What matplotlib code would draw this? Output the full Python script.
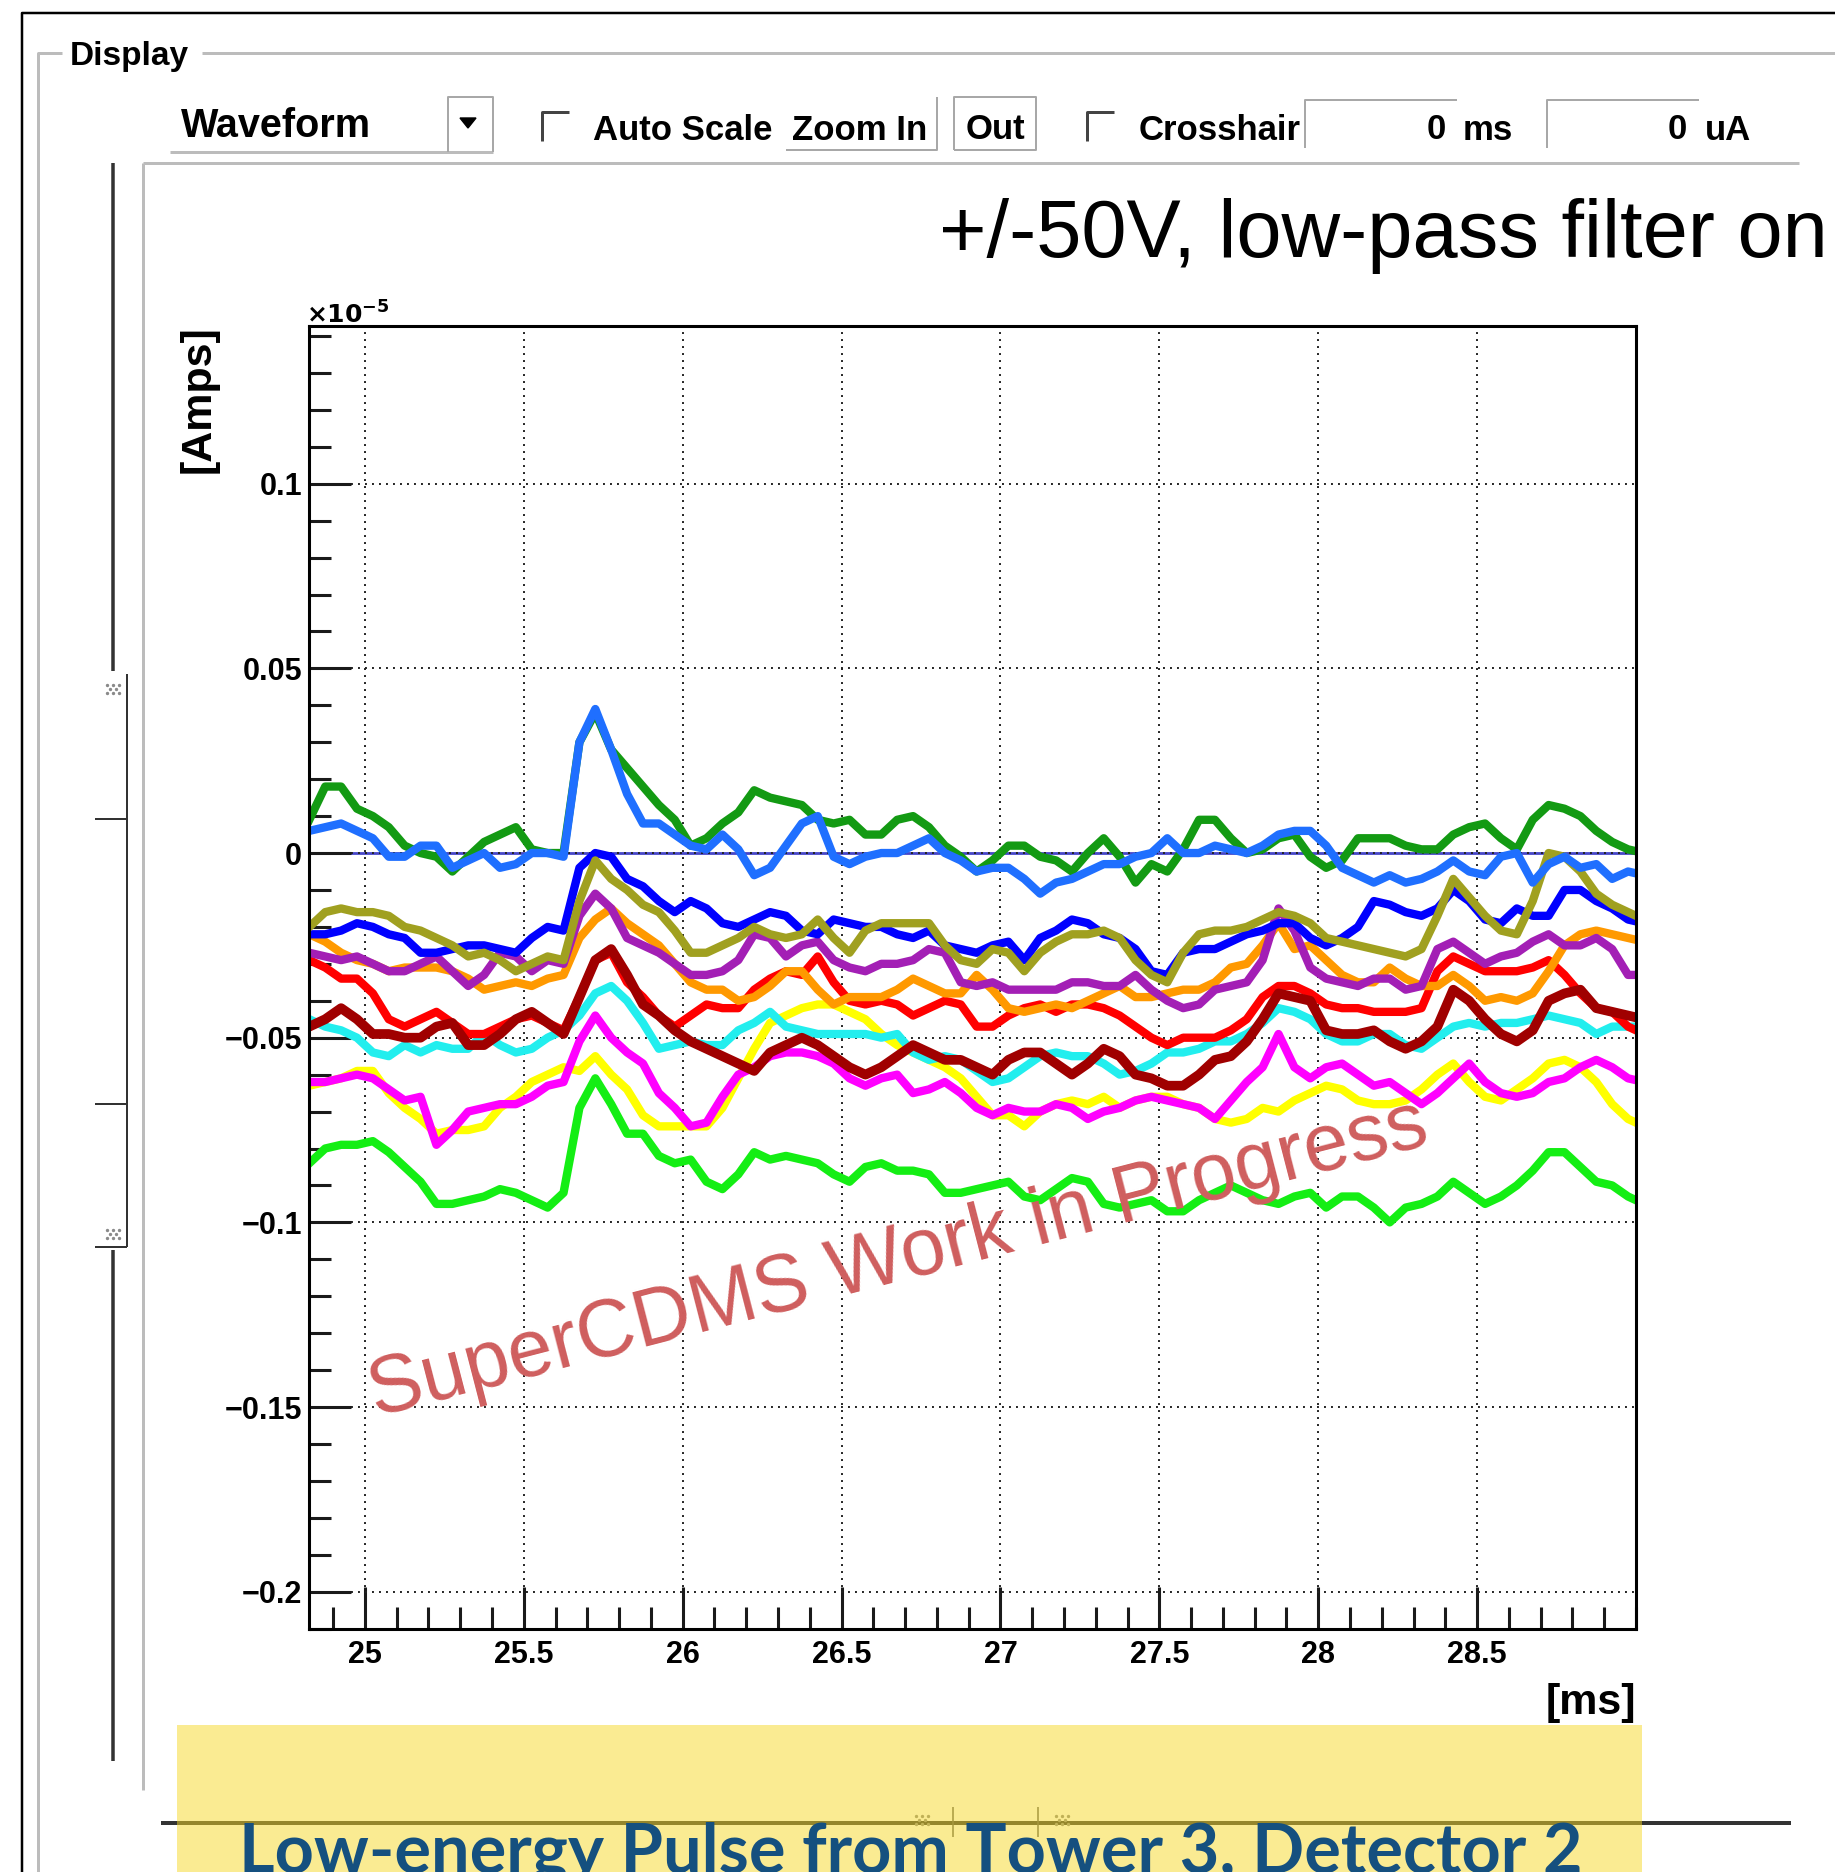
import numpy as np
import matplotlib
matplotlib.use("Agg")
import matplotlib.pyplot as plt
from matplotlib.patches import Rectangle, Polygon
from matplotlib.ticker import MultipleLocator, FixedLocator, FuncFormatter

W, H = 1835, 1872
DPI = 100

plt.rcParams["font.family"] = ["Liberation Sans", "DejaVu Sans"]
plt.rcParams["font.weight"] = "bold"

# sampling of the waveform viewer: one point every 50 us
t_start, t_step, n_samples = 24.825, 0.05, 85
time_ms = t_start + t_step * np.arange(n_samples)

# channel amplitudes in units of 1e-3 (axis is in 1e-5 A)
dark_green = [9, 18, 18, 12, 10, 7, 2, 0, -1, -5, -1, 3, 5, 7, 1, 0, 0, 30, 38, 28, 23, 18,
              13, 9, 2, 4, 8, 11, 17, 15, 14, 13, 9, 8, 9, 5, 5, 9, 10, 7, 2, -1, -5,
              -2, 2, 2, -1, -2, -5, 0, 4, -1, -8, -3, -5, 1, 9, 9, 4, 0, 1, 4, 5,
              -1, -4, -2, 4, 4, 4, 2, 1, 1, 5, 7, 8, 4, 1, 9, 13, 12, 10, 6, 3, 1, 0]
light_blue = [6, 7, 8, 6, 4, -1, -1, 2, 2, -4, -2, 0, -4, -3, 0, 0, -1, 30, 39, 28, 16, 8,
              8, 5, 2, 1, 5, 1, -6, -4, 2, 8, 10, -1, -3, -1, 0, 0, 2, 4, 0, -2, -5,
              -4, -4, -7, -11, -8, -7, -5, -3, -3, -1, 0, 4, 0, 0, 2, 1, 0, 2, 5, 6,
              6, 2, -4, -6, -8, -6, -8, -7, -5, -2, -5, -6, -1, 0, -8, -3, -1, -4, -3, -7, -5, -6]
blue = [-22, -22, -21, -19, -20, -22, -23, -27, -27, -26, -25, -25, -26, -27, -23, -20, -21, -4, 0, -1, -7, -9,
        -13, -16, -13, -15, -19, -20, -18, -16, -17, -21, -22, -18, -19, -20, -20, -22, -23, -21, -25, -26, -27,
        -25, -24, -29, -23, -21, -18, -19, -22, -23, -26, -32, -33, -27, -26, -26, -24, -22, -21, -19, -19,
        -23, -25, -23, -20, -13, -14, -16, -17, -15, -10, -13, -18, -19, -15, -17, -17, -10, -10, -13, -15, -18, -19]
olive = [-20, -16, -15, -16, -16, -17, -20, -21, -23, -25, -28, -27, -29, -32, -30, -28, -29, -13, -2, -7, -10, -14,
         -16, -21, -27, -27, -25, -23, -20, -22, -23, -22, -18, -23, -27, -21, -19, -19, -19, -19, -25, -29, -30,
         -26, -27, -32, -27, -24, -22, -22, -21, -23, -29, -33, -35, -27, -22, -21, -21, -20, -18, -16, -17,
         -19, -23, -24, -25, -26, -27, -28, -26, -17, -7, -12, -17, -21, -22, -13, 0, -1, -5, -11, -14, -16, -18]
purple = [-27, -28, -29, -28, -30, -32, -32, -30, -28, -32, -36, -33, -27, -28, -32, -29, -30, -17, -11, -15, -23, -25,
          -27, -30, -33, -33, -32, -29, -22, -23, -28, -25, -24, -29, -31, -32, -30, -30, -29, -26, -27, -35, -36,
          -35, -37, -37, -37, -37, -35, -35, -36, -36, -33, -37, -40, -42, -41, -37, -36, -35, -29, -15, -21,
          -31, -34, -35, -36, -34, -34, -37, -36, -26, -24, -27, -30, -28, -27, -24, -22, -25, -25, -23, -26, -33, -33]
orange = [-22, -24, -27, -29, -30, -32, -31, -31, -31, -32, -34, -37, -36, -35, -36, -34, -33, -23, -18, -15, -19, -22,
          -25, -30, -35, -37, -37, -40, -39, -36, -32, -32, -37, -41, -39, -39, -39, -37, -34, -36, -38, -38, -33,
          -37, -42, -43, -42, -41, -42, -40, -38, -36, -39, -39, -38, -37, -37, -35, -31, -30, -25, -19, -26,
          -25, -29, -33, -35, -35, -31, -34, -36, -36, -33, -36, -40, -39, -40, -38, -32, -25, -22, -21, -22, -23, -24]
red = [-29, -31, -34, -34, -38, -45, -47, -45, -43, -46, -49, -49, -47, -45, -44, -46, -48, -39, -29, -27, -35, -39,
       -44, -47, -44, -41, -42, -42, -37, -34, -32, -33, -28, -35, -40, -41, -40, -41, -44, -42, -40, -41, -47,
       -47, -44, -42, -41, -43, -41, -41, -42, -44, -47, -50, -52, -50, -50, -50, -48, -45, -39, -36, -36,
       -38, -41, -42, -42, -43, -43, -43, -42, -32, -28, -30, -32, -32, -32, -31, -29, -33, -38, -42, -43, -47, -49]
dark_red = [-47, -45, -42, -45, -49, -49, -50, -50, -47, -46, -52, -52, -49, -45, -43, -46, -49, -39, -29, -26, -33, -41,
            -44, -48, -51, -53, -55, -57, -59, -54, -52, -50, -52, -55, -58, -60, -58, -55, -52, -54, -56, -56, -58,
            -60, -56, -54, -54, -57, -60, -57, -53, -55, -60, -61, -63, -63, -60, -56, -55, -51, -45, -38, -39,
            -40, -48, -49, -49, -48, -51, -53, -51, -47, -37, -40, -45, -49, -51, -48, -40, -38, -37, -42, -43, -44, -45]
cyan = [-45, -47, -48, -50, -54, -55, -52, -54, -52, -53, -53, -49, -52, -54, -53, -50, -48, -44, -38, -36, -40, -46,
        -53, -52, -51, -52, -52, -48, -46, -43, -47, -48, -49, -49, -49, -49, -50, -49, -54, -56, -55, -56, -59,
        -62, -61, -58, -55, -54, -55, -55, -57, -60, -59, -57, -54, -54, -53, -51, -51, -49, -46, -42, -43,
        -45, -49, -51, -51, -49, -49, -52, -53, -50, -47, -46, -47, -46, -46, -45, -44, -45, -46, -49, -47, -47, -47]
magenta = [-62, -62, -61, -60, -61, -64, -67, -66, -79, -75, -70, -69, -68, -68, -66, -63, -62, -51, -44, -50, -54, -57,
           -65, -69, -74, -73, -66, -60, -58, -55, -54, -54, -55, -57, -61, -63, -61, -60, -65, -64, -62, -65, -69,
           -71, -69, -70, -70, -68, -69, -72, -70, -69, -67, -66, -67, -68, -69, -72, -67, -62, -58, -49, -58,
           -61, -58, -57, -60, -63, -62, -65, -68, -65, -61, -57, -62, -65, -66, -65, -62, -61, -58, -56, -58, -61, -62]
yellow = [-63, -62, -61, -59, -59, -65, -69, -72, -76, -75, -75, -74, -69, -66, -62, -60, -58, -59, -55, -60, -64, -71,
          -74, -74, -74, -74, -69, -61, -53, -46, -44, -42, -41, -41, -43, -45, -49, -52, -54, -56, -58, -61, -66,
          -71, -71, -74, -70, -68, -67, -68, -66, -69, -67, -66, -66, -68, -69, -72, -73, -72, -69, -70, -67,
          -65, -63, -64, -67, -68, -68, -67, -64, -60, -57, -62, -66, -67, -64, -61, -57, -56, -58, -62, -68, -72, -74]
bright_green = [-84, -80, -79, -79, -78, -81, -85, -89, -95, -95, -94, -93, -91, -92, -94, -96, -92, -69, -61, -68, -76, -76,
                -82, -84, -83, -89, -91, -87, -81, -83, -82, -83, -84, -87, -89, -85, -84, -86, -86, -87, -92, -92, -91,
                -90, -89, -93, -94, -91, -88, -89, -95, -96, -95, -94, -97, -97, -94, -92, -90, -92, -94, -95, -93,
                -92, -96, -93, -93, -96, -100, -96, -95, -93, -89, -92, -95, -93, -90, -86, -81, -81, -85, -89, -90, -93, -95]

# drawing order, bottom to top
traces = [
    (bright_green, "#14ee14", 6.0),
    (yellow, "#ffff00", 6.0),
    (magenta, "#ff00ff", 6.0),
    (cyan, "#22eeee", 6.0),
    (red, "#ff0000", 6.0),
    (dark_red, "#a00000", 7.0),
    (orange, "#ff9900", 6.0),
    (purple, "#a31fb5", 6.0),
    (blue, "#0000ff", 6.0),
    (olive, "#a0a020", 6.0),
    (dark_green, "#139a13", 6.0),
    (light_blue, "#1f6fff", 6.0),
]

x_major = [25, 25.5, 26, 26.5, 27, 27.5, 28, 28.5]

fig = plt.figure(figsize=(W / DPI, H / DPI), dpi=DPI, facecolor="white")


def px_axes(z):
    a = fig.add_axes([0, 0, 1, 1], zorder=z)
    a.set_xlim(0, W)
    a.set_ylim(H, 0)
    a.axis("off")
    a.patch.set_alpha(0)
    return a


back = px_axes(0)
PX = 0.72  # points per pixel at 100 dpi
GREY = "#bcbcbc"


def seg(a, xs, ys, color=GREY, w=3, z=1):
    a.plot(xs, ys, color=color, lw=w * PX, solid_capstyle="butt", zorder=z)


# window frame and group box
seg(back, [22, 22, W], [H, 13, 13], color="black", w=2.5)
seg(back, [38, 38, 62], [H, 53, 53])
seg(back, [202, W], [53, 53])
back.text(70, 65, "Display", fontsize=24, va="baseline", ha="left")

# toolbar
back.text(181, 137, "Waveform", fontsize=28.5, va="baseline", ha="left")
seg(back, [170, 493], [152, 152])
seg(back, [448, 448, 493, 493], [152, 97, 97, 152], color="#a8a8a8", w=2)
back.add_patch(Polygon([(460, 118), (476, 118), (468, 128)], closed=True, color="black"))

for cx in (542, 1087):
    seg(back, [cx, cx, cx + 27], [141, 112, 112], color="#444444", w=3)
back.text(593, 140, "Auto Scale", fontsize=25, va="baseline", ha="left")
back.text(792, 140, "Zoom In", fontsize=25, va="baseline", ha="left")
seg(back, [786, 937, 937], [150, 150, 97], color="#a8a8a8", w=2)
back.text(966, 139, "Out", fontsize=25, va="baseline", ha="left")
seg(back, [954, 954, 1036, 1036, 954], [150, 97, 97, 150, 150], color="#a8a8a8", w=2)
back.text(1139, 140, "Crosshair", fontsize=25, va="baseline", ha="left")

for x0, x1, x_zero, unit in ((1305, 1457, 1446, "ms"), (1547, 1699, 1687, "uA")):
    seg(back, [x0, x0, x1], [148, 100, 100], color="#a8a8a8", w=2)
    back.text(x_zero, 139, "0", fontsize=25, va="baseline", ha="right")
    back.text(x1 + 6, 140, unit, fontsize=25, va="baseline", ha="left")

seg(back, [143, 1799], [163, 163])
seg(back, [143, 143], [163, 1790])

# vertical slider at the left of the canvas
seg(back, [113, 113], [163, 671], color="#333333", w=3.5)
seg(back, [113, 113], [1250, 1761], color="#333333", w=3.5)
seg(back, [127, 127], [674, 1247], color="#333333", w=2)
for yy in (819, 1104, 1247):
    seg(back, [95, 127], [yy, yy], color="#333333", w=2)

# horizontal splitter at the bottom
seg(back, [161, 1791], [1823, 1823], color="#333333", w=4)
for xx in (953, 1038):
    seg(back, [xx, xx], [1807, 1837], color="#555555", w=1.5)

grip_x, grip_y = [], []
for gx, gy in ((113, 689), (113, 1234), (922, 1820), (1062, 1820)):
    for dx, dy in ((-6, -4), (0, -4), (6, -4), (-3, 0), (3, 0), (-6, 4), (0, 4), (6, 4)):
        grip_x.append(gx + dx)
        grip_y.append(gy + dy)
back.scatter(grip_x, grip_y, s=2, color="#8a8a8a", zorder=2)

back.text(939, 257, "+/-50V, low-pass filter on", fontsize=58.5,
          fontweight="normal", va="baseline", ha="left")

# waveform pad
ax = fig.add_axes([309 / W, 1 - 1629 / H, (1636 - 309) / W, (1629 - 326) / H], zorder=1)
ax.set_facecolor("white")
ax.axhline(0, color="#4646c8", lw=2.0, zorder=1)
for vals, color, lw in traces:
    ax.plot(time_ms, np.array(vals) / 1000.0, color=color, lw=lw, zorder=2)

ax.set_xlim(24.824, 29.0)
ax.set_ylim(-0.2101, 0.1427)
ax.xaxis.set_major_locator(FixedLocator(x_major))
ax.xaxis.set_minor_locator(MultipleLocator(0.1))
ax.yaxis.set_major_locator(MultipleLocator(0.05))
ax.yaxis.set_minor_locator(MultipleLocator(0.01))
ax.xaxis.set_major_formatter(FuncFormatter(lambda v, p: f"{v:g}"))
ax.yaxis.set_major_formatter(
    FuncFormatter(lambda v, p: "0" if abs(v) < 1e-9 else f"{v:g}".replace("-", "\u2212")))
ax.tick_params(which="both", direction="in", top=False, right=False,
               width=2.2, color="#1a1a1a", labelsize=22)
ax.tick_params(which="major", length=30)
ax.tick_params(which="minor", length=16)
ax.tick_params(axis="x", pad=8)
ax.tick_params(axis="y", pad=5)
ax.grid(which="major", color="#222222", linestyle=(0, (1, 2.6)), lw=1.4, zorder=0)
for sp in ax.spines.values():
    sp.set_linewidth(2.2)

back.text(306, 324, r"$\times10^{-5}$", fontsize=18, fontweight="normal",
          va="baseline", ha="left")
back.text(199, 399, "[Amps]", fontsize=31, rotation=90, va="center", ha="center")
back.text(1636, 1703, "[ms]", fontsize=31, va="center", ha="right")

# overlays on top of the pad
front = px_axes(3)
front.text(898, 1260, "SuperCDMS Work in Progress", fontsize=58, fontweight="normal",
           color="#cf5e5e", rotation=14.5, rotation_mode="anchor",
           ha="center", va="center", zorder=5)
front.add_patch(Rectangle((177, 1725), 1642 - 177, H - 1725 + 5,
                          facecolor=(0.97, 0.85, 0.15), alpha=0.5, edgecolor="none", zorder=4))
banner = front.text(239, 1822, "Low-energy Pulse from Tower 3, Detector 2",
                    fontsize=44, family=["Lato", "DejaVu Sans"], fontweight="bold",
                    color="#15507f", ha="left", va="top", zorder=6)

# size the banner caption to its box width
renderer = fig.canvas.get_renderer()
bw = banner.get_window_extent(renderer).width
banner.set_fontsize(44 * 1343 / bw)

fig.savefig("out.png", dpi=DPI, facecolor="white")
